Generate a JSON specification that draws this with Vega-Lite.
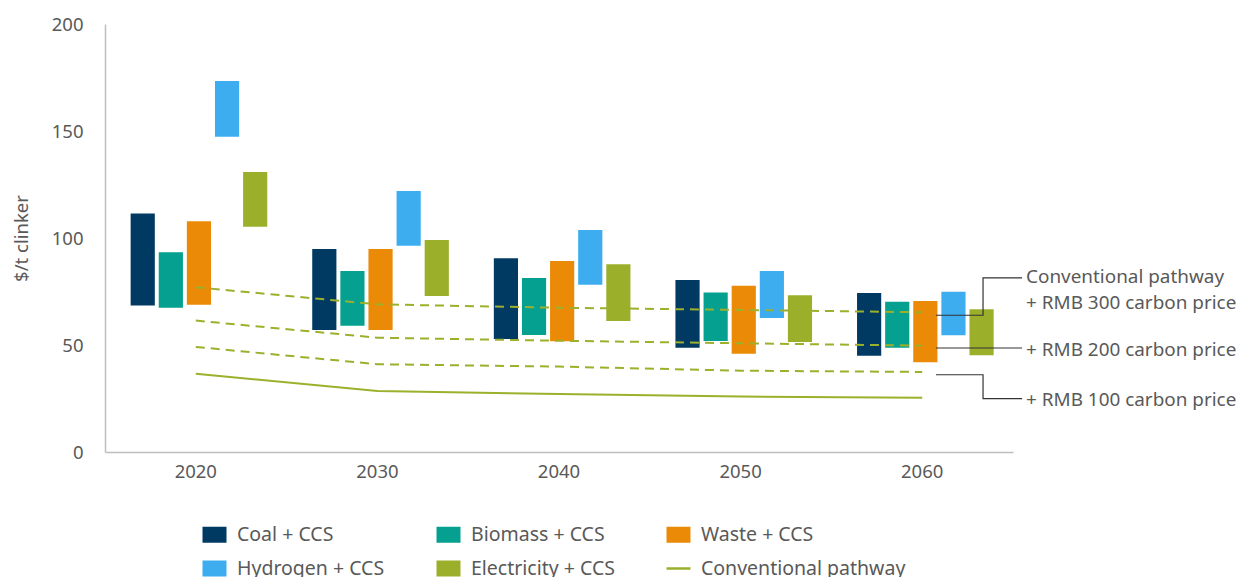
{
  "$schema": "https://vega.github.io/schema/vega-lite/v6.json",
  "width": 908,
  "height": 428,
  "autosize": "none",
  "padding": {"left": 105, "top": 24, "right": 227, "bottom": 125},
  "background": "white",
  "config": {
    "view": {"stroke": null},
    "font": "Noto Sans",
    "axis": {"labelFont": "Noto Sans", "titleFont": "Noto Sans", "labelColor": "#595959", "titleColor": "#595959"},
    "legend": {"labelFont": "Noto Sans"}
  },
  "datasets": {
    "bars": [
      {"year": "2020", "tech": "Coal + CCS", "low": 68.5, "high": 111.5},
      {"year": "2020", "tech": "Biomass + CCS", "low": 67.4, "high": 93.3},
      {"year": "2020", "tech": "Waste + CCS", "low": 68.8, "high": 107.8},
      {"year": "2020", "tech": "Hydrogen + CCS", "low": 147.3, "high": 173.4},
      {"year": "2020", "tech": "Electricity + CCS", "low": 105.3, "high": 130.8},
      {"year": "2030", "tech": "Coal + CCS", "low": 57, "high": 94.9},
      {"year": "2030", "tech": "Biomass + CCS", "low": 59, "high": 84.6},
      {"year": "2030", "tech": "Waste + CCS", "low": 57, "high": 94.9},
      {"year": "2030", "tech": "Hydrogen + CCS", "low": 96.4, "high": 122},
      {"year": "2030", "tech": "Electricity + CCS", "low": 72.9, "high": 99.1},
      {"year": "2040", "tech": "Coal + CCS", "low": 52.8, "high": 90.5},
      {"year": "2040", "tech": "Biomass + CCS", "low": 54.7, "high": 81.3},
      {"year": "2040", "tech": "Waste + CCS", "low": 51.7, "high": 89.3},
      {"year": "2040", "tech": "Hydrogen + CCS", "low": 78.2, "high": 103.7},
      {"year": "2040", "tech": "Electricity + CCS", "low": 61.2, "high": 87.7},
      {"year": "2050", "tech": "Coal + CCS", "low": 48.7, "high": 80.4},
      {"year": "2050", "tech": "Biomass + CCS", "low": 51.9, "high": 74.5},
      {"year": "2050", "tech": "Waste + CCS", "low": 45.9, "high": 77.7},
      {"year": "2050", "tech": "Hydrogen + CCS", "low": 62.6, "high": 84.6},
      {"year": "2050", "tech": "Electricity + CCS", "low": 51.4, "high": 73.2},
      {"year": "2060", "tech": "Coal + CCS", "low": 45, "high": 74.3},
      {"year": "2060", "tech": "Biomass + CCS", "low": 48.7, "high": 70.2},
      {"year": "2060", "tech": "Waste + CCS", "low": 41.9, "high": 70.6},
      {"year": "2060", "tech": "Hydrogen + CCS", "low": 54.5, "high": 74.9},
      {"year": "2060", "tech": "Electricity + CCS", "low": 45.2, "high": 66.7}
    ],
    "lines": [
      {"year": "2020", "series": "Conventional pathway", "value": 36.6},
      {"year": "2030", "series": "Conventional pathway", "value": 28.5},
      {"year": "2040", "series": "Conventional pathway", "value": 27.1},
      {"year": "2050", "series": "Conventional pathway", "value": 25.9},
      {"year": "2060", "series": "Conventional pathway", "value": 25.4},
      {"year": "2020", "series": "+ RMB 100", "value": 49.1},
      {"year": "2030", "series": "+ RMB 100", "value": 41},
      {"year": "2040", "series": "+ RMB 100", "value": 39.9},
      {"year": "2050", "series": "+ RMB 100", "value": 38},
      {"year": "2060", "series": "+ RMB 100", "value": 37.4},
      {"year": "2020", "series": "+ RMB 200", "value": 61.4},
      {"year": "2030", "series": "+ RMB 200", "value": 53.4},
      {"year": "2040", "series": "+ RMB 200", "value": 52},
      {"year": "2050", "series": "+ RMB 200", "value": 50.8},
      {"year": "2060", "series": "+ RMB 200", "value": 49.7},
      {"year": "2020", "series": "+ RMB 300", "value": 77},
      {"year": "2030", "series": "+ RMB 300", "value": 69},
      {"year": "2040", "series": "+ RMB 300", "value": 67.4},
      {"year": "2050", "series": "+ RMB 300", "value": 66.4},
      {"year": "2060", "series": "+ RMB 300", "value": 65.3}
    ],
    "connectors": [
      {"group": "300", "i": 1, "x": 2060.76, "y": 63.9},
      {"group": "300", "i": 2, "x": 2063.35, "y": 63.9},
      {"group": "300", "i": 3, "x": 2063.35, "y": 81.4},
      {"group": "300", "i": 4, "x": 2065.5, "y": 81.4},
      {"group": "200", "i": 1, "x": 2060.76, "y": 48.6},
      {"group": "200", "i": 2, "x": 2065.5, "y": 48.6},
      {"group": "100", "i": 1, "x": 2060.76, "y": 36.1},
      {"group": "100", "i": 2, "x": 2063.35, "y": 36.1},
      {"group": "100", "i": 3, "x": 2063.35, "y": 24.9},
      {"group": "100", "i": 4, "x": 2065.5, "y": 24.9}
    ],
    "labels": [
      {"x": 2065.72, "y": 81.8, "text": "Conventional pathway"},
      {"x": 2065.72, "y": 69.6, "text": "+ RMB 300 carbon price"},
      {"x": 2065.72, "y": 47.7, "text": "+ RMB 200 carbon price"},
      {"x": 2065.72, "y": 24.3, "text": "+ RMB 100 carbon price"}
    ]
  },
  "layer": [
    {
      "encoding": {
        "x": {
          "field": "year", "type": "nominal",
          "scale": {"type": "band", "paddingInner": 0, "paddingOuter": 0},
          "axis": {"title": null, "labelAngle": 0, "ticks": false, "domainColor": "#bfbfbf", "domainWidth": 1.5, "labelFontSize": 18.5, "labelPadding": 10}
        }
      },
      "layer": [
        {
          "data": {"name": "bars"},
          "mark": {"type": "bar"},
          "encoding": {
            "xOffset": {
              "field": "tech", "type": "nominal",
              "sort": ["Coal + CCS", "Biomass + CCS", "Waste + CCS", "Hydrogen + CCS", "Electricity + CCS"],
              "scale": {"domain": ["Coal + CCS", "Biomass + CCS", "Waste + CCS", "Hydrogen + CCS", "Electricity + CCS"], "paddingInner": 0.14, "paddingOuter": 0.8, "align": 0.57}
            },
            "y": {
              "field": "low", "type": "quantitative",
              "scale": {"domain": [0, 200], "nice": false},
              "axis": {"title": "$/t clinker", "values": [0, 50, 100, 150, 200], "grid": false, "ticks": false, "domainColor": "#bfbfbf", "domainWidth": 1.5, "labelFontSize": 18.5, "labelPadding": 22, "titleFontSize": 18.5, "titleFontWeight": "normal", "titlePadding": 20}
            },
            "y2": {"field": "high"},
            "color": {
              "field": "tech", "type": "nominal",
              "scale": {
                "domain": ["Coal + CCS", "Biomass + CCS", "Waste + CCS", "Hydrogen + CCS", "Electricity + CCS", "Conventional pathway"],
                "range": ["#003a63", "#05a08f", "#ea8a06", "#3dadf0", "#9caf2b", "#9caf2b"]
              },
              "legend": {
                "title": null,
                "orient": "none",
                "legendX": 96,
                "legendY": 497,
                "direction": "horizontal",
                "columns": 3,
                "columnPadding": 46,
                "rowPadding": 7,
                "symbolSize": 576,
                "labelFontSize": 19.5,
                "labelColor": "#595959",
                "labelOffset": 9,
                "labelLimit": 300,
                "encode": {
                  "symbols": {
                    "update": {
                      "shape": {"signal": "datum.value === 'Conventional pathway' ? 'M-1,0H1' : 'M-1,-0.667H1V0.667H-1Z'"},
                      "fill": {"signal": "datum.value === 'Conventional pathway' ? 'transparent' : datum.value === 'Hydrogen + CCS' ? '#2eaed2' : scale('color', datum.value)"},
                      "stroke": {"signal": "datum.value === 'Conventional pathway' ? '#9caf2b' : 'transparent'"},
                      "strokeWidth": {"value": 2.5},
                      "opacity": {"value": 1}
                    }
                  }
                }
              }
            }
          }
        },
        {
          "data": {"name": "lines"},
          "transform": [{"filter": "datum.series !== 'Conventional pathway'"}],
          "mark": {"type": "line", "color": "#9cb02b", "strokeWidth": 2, "strokeDash": [9, 6]},
          "encoding": {
            "y": {"field": "value", "type": "quantitative"},
            "detail": {"field": "series"}
          }
        },
        {
          "data": {"name": "lines"},
          "transform": [{"filter": "datum.series === 'Conventional pathway'"}],
          "mark": {"type": "line", "color": "#9cb02b", "strokeWidth": 2},
          "encoding": {
            "y": {"field": "value", "type": "quantitative"}
          }
        }
      ]
    },
    {
      "encoding": {
        "x": {"field": "x", "type": "quantitative", "scale": {"domain": [2015, 2065], "nice": false, "zero": false}, "axis": null},
        "y": {"field": "y", "type": "quantitative"}
      },
      "layer": [
        {
          "data": {"name": "connectors"},
          "mark": {"type": "line", "color": "#333333", "strokeWidth": 1.2, "clip": false},
          "encoding": {
            "detail": {"field": "group"},
            "order": {"field": "i", "type": "quantitative"}
          }
        },
        {
          "data": {"name": "labels"},
          "mark": {"type": "text", "align": "left", "baseline": "middle", "fontSize": 18.9, "color": "#595959", "font": "Noto Sans"},
          "encoding": {"text": {"field": "text"}}
        }
      ]
    }
  ],
  "resolve": {"scale": {"x": "independent"}}
}
